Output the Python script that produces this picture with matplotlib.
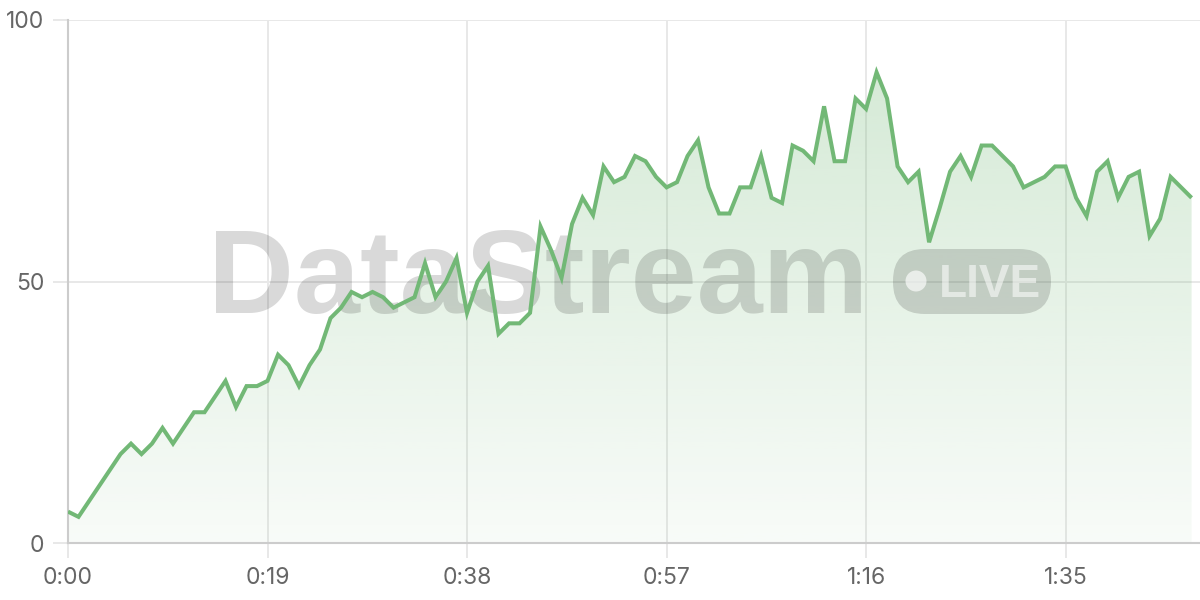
import numpy as np
import matplotlib
matplotlib.use("Agg")
import matplotlib.pyplot as plt
from matplotlib.patches import FancyBboxPatch, Ellipse
from matplotlib.colors import to_rgb

# one sample per second, 0:00 .. 1:47
values = [6, 5, 8, 11, 14, 17, 19, 17, 19, 22,
          19, 22, 25, 25, 28, 31, 26, 30, 30, 31,
          36, 34, 30, 34, 37, 43, 45, 48, 47, 48,
          47, 45, 46, 47, 53.5, 47, 50, 54.5, 44, 50,
          53, 40, 42, 42, 44, 60.5, 56, 50.7, 61, 66,
          62.7, 72, 69, 70, 74, 73, 70, 68, 69, 74,
          77, 68, 63, 63, 68, 68, 74, 66, 65, 76,
          75, 73, 83.5, 73, 73, 85, 83, 90, 85, 72,
          69, 71, 57.5, 64, 71, 74, 70, 76, 76, 74,
          72, 68, 69, 70, 72, 72, 66, 62.5, 71, 73,
          66, 70, 71, 58.7, 62, 70, 68, 66]
seconds = list(range(len(values)))
x_ticks = [0, 19, 38, 57, 76, 95]
x_tick_labels = ["0:00", "0:19", "0:38", "0:57", "1:16", "1:35"]
y_ticks = [0, 50, 100]

line_color = "#72b876"
grid_color = "#e8e8e8"
text_color = "#666666"

fig = plt.figure(figsize=(12, 6), dpi=100)
ax = fig.add_axes([68 / 1200, 57 / 600, 1132 / 1200, 523 / 600])
ax.set_xlim(0, 107.8)
ax.set_ylim(0, 100)

# gradient fill under the line
fill = ax.fill_between(seconds, values, 0, color="none", lw=0)
rgb = to_rgb(line_color)
grad = np.zeros((256, 1, 4))
grad[:, 0, :3] = rgb
grad[:, 0, 3] = np.linspace(0.32, 0.05, 256)
img = ax.imshow(grad, extent=[0, 107.8, 0, 100], aspect="auto", zorder=1,
                origin="upper")
img.set_clip_path(fill.get_paths()[0], transform=ax.transData)

ax.plot(seconds, values, color=line_color, lw=2.9, zorder=4,
        solid_joinstyle="miter", solid_capstyle="butt")

# watermark
wm = (0, 0, 0, 0.15)
ax.text((208 - 68) / 1132, (543 - 313) / 523, "DataStream", transform=ax.transAxes,
        fontsize=85.5, fontweight="bold", family="Liberation Sans", color=wm,
        ha="left", va="baseline", zorder=3)
pill = FancyBboxPatch(((893 - 68) / 1132, (543 - 314) / 523),
                      (1051 - 893) / 1132, (314 - 249) / 523,
                      boxstyle="round,pad=0,rounding_size=0.028",
                      transform=ax.transAxes, facecolor=wm, edgecolor="none",
                      zorder=3, mutation_aspect=1132 / 523)
ax.add_patch(pill)
ax.add_patch(Ellipse(((916 - 68) / 1132, (543 - 281) / 523), 21 / 1132, 21 / 523,
                     transform=ax.transAxes, facecolor=(1, 1, 1, 0.65),
                     edgecolor="none", zorder=3))
ax.text((939 - 68) / 1132, (543 - 297) / 523, "LIVE", transform=ax.transAxes,
        fontsize=33, fontweight="bold", family="Liberation Sans",
        color=(1, 1, 1, 0.55), ha="left", va="baseline", zorder=3)

ax.set_xticks(x_ticks)
ax.set_xticklabels(x_tick_labels)
ax.set_yticks(y_ticks)
ax.grid(True, color=grid_color, lw=1.4, zorder=0)
ax.set_axisbelow(True)
ax.tick_params(axis="both", length=11, width=1.4, color=grid_color,
               labelsize=16.5, labelcolor=text_color)
for lab in ax.get_xticklabels() + ax.get_yticklabels():
    lab.set_family("Inter")
ax.tick_params(axis="x", pad=6)
ax.tick_params(axis="y", pad=6)

for side in ["top", "right"]:
    ax.spines[side].set_visible(False)
for side in ["left", "bottom"]:
    ax.spines[side].set_color("#cccccc")
    ax.spines[side].set_linewidth(1.5)

fig.savefig("out.png", dpi=100)
